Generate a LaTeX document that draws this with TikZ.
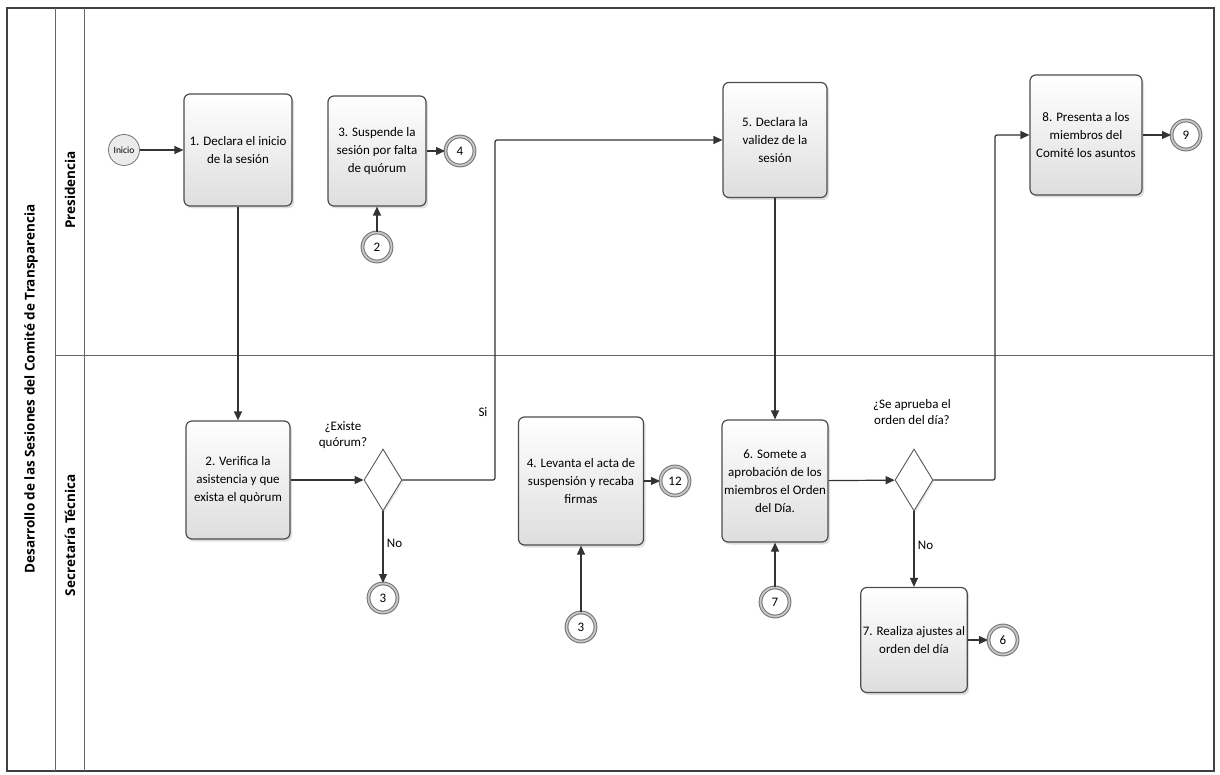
\documentclass[tikz,border=0pt]{standalone}
\usepackage{fontspec}
\setmainfont{Carlito}
\newfontfamily\lanefont{Open Sans}
\usetikzlibrary{arrows.meta,shapes.geometric,shadows}

\begin{document}
\begin{tikzpicture}[x=1pt,y=-1pt,
    font=\fontsize{13}{16}\selectfont,
    task/.style={draw=black!70, line width=1.2pt, rounded corners=6pt,
      top color=white, bottom color=black!13, align=center, inner sep=2pt,
      font=\fontsize{13}{18}\selectfont,
      drop shadow={opacity=0.25, shadow xshift=2pt, shadow yshift=-2.5pt}},
    link/.style={circle, draw=black!55, line width=1pt, double=black!22,
      double distance=1.8pt, fill=white, minimum size=29pt, inner sep=0pt,
      drop shadow={opacity=0.2, shadow xshift=1.5pt, shadow yshift=-1.5pt}},
    start/.style={circle, draw=black!55, line width=0.8pt, fill=black!8,
      minimum size=31pt, inner sep=0pt, font=\fontsize{9.5}{10}\selectfont},
    gate/.style={diamond, draw=black!65, line width=0.9pt, fill=white,
      minimum width=38pt, minimum height=62pt, inner sep=0pt,
      drop shadow={opacity=0.2, shadow xshift=1.5pt, shadow yshift=-1.5pt}},
    flow/.style={draw=black!80, line width=1.2pt, rounded corners=2pt,
      -{Triangle[length=9pt,width=8pt]}},
    lane/.style={font=\lanefont\bfseries\fontsize{13.5}{15}\selectfont, rotate=90}]
  \useasboundingbox (0,0) rectangle (1220,775);

  % pool and lanes
  \draw[black!75, line width=1.3pt] (7,8) rectangle (1214,771);
  \draw[black!60, line width=0.7pt] (55,8) -- (55,771);
  \draw[black!60, line width=0.7pt] (84,8) -- (84,771);
  \draw[black!60, line width=0.7pt] (55,355) -- (1214,355);
  \node[lane] (pool) at (31,389) {Desarrollo de las Sesiones del Comité de Transparencia};
  \node[lane] (pres) at (70,190) {Presidencia};
  \node[lane] (secr) at (70,535) {Secretaría Técnica};

  % Presidencia
  \node[start] (inicio) at (124,150) {Inicio};
  \node[task, minimum width=108pt, minimum height=112pt] (a1) at (238,150) {1. Declara el inicio\\de la sesión};
  \node[task, minimum width=98pt, minimum height=110pt] (a3) at (377,151) {3. Suspende la\\sesión por falta\\de quórum};
  \node[link] (e4) at (460,151) {4};
  \node[link] (e2) at (377,247) {2};
  \node[task, minimum width=104pt, minimum height=115pt] (a5) at (775,140) {5. Declara la\\validez de la\\sesión};
  \node[task, minimum width=112pt, minimum height=120pt] (a8) at (1086,135) {8. Presenta a los\\miembros del\\Comité los asuntos};
  \node[link] (e9) at (1186,135) {9};

  % Secretaria Tecnica
  \node[task, minimum width=104pt, minimum height=118pt] (a2) at (238,480) {2. Verifica la\\asistencia y que\\exista el quòrum};
  \node[gate] (g1) at (383,480) {};
  \node[align=center] (q1) at (343,435) {¿Existe\\quórum?};
  \node[link] (e3a) at (383,598) {3};
  \node[task, minimum width=125pt, minimum height=128pt] (a4) at (581,481) {4. Levanta el acta de\\suspensión y recaba\\firmas};
  \node[link] (e12) at (675,481) {12};
  \node[link] (e3b) at (581,627) {3};
  \node[task, minimum width=106pt, minimum height=122pt] (a6) at (775,481) {6. Somete a\\aprobación de los\\miembros el Orden\\del Día.};
  \node[link] (e7) at (775,602) {7};
  \node[gate] (g2) at (914,480) {};
  \node[align=center] (q2) at (912,412) {¿Se aprueba el\\orden del día?};
  \node[task, minimum width=104pt, minimum height=105pt] (a7) at (914,640) {7. Realiza ajustes al\\orden del día};
  \node[link] (e6) at (1003,640) {6};

  \coordinate (si1) at (495,480);
  \coordinate (si2) at (495,140);
  \coordinate (ok1) at (995,480);
  \coordinate (ok2) at (995,135);

  % flows
  \draw[flow] (inicio) -- (a1);
  \draw[flow] (a1) -- (a2);
  \draw[flow] (e2) -- (a3);
  \draw[flow] (a3) -- (e4);
  \draw[flow] (a2) -- (g1);
  \draw[flow] (g1) -- node[right, pos=0.45] (no1) {No} (e3a);
  \draw[flow] (g1) -- (si1) -- (si2) -- (a5);
  \node (si) at (483,412) {Si};
  \draw[flow] (e3b) -- (a4);
  \draw[flow] (a4) -- (e12);
  \draw[flow] (a5) -- (a6);
  \draw[flow] (e7) -- (a6);
  \draw[flow] (a6) -- (g2);
  \draw[flow] (g2) -- (ok1) -- (ok2) -- (a8);
  \draw[flow] (g2) -- node[right, pos=0.45] (no2) {No} (a7);
  \draw[flow] (a7) -- (e6);
  \draw[flow] (a8) -- (e9);
\end{tikzpicture}
\end{document}
